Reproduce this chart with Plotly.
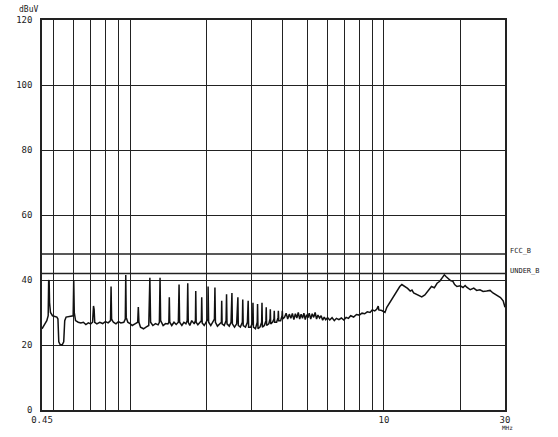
import math
import plotly.graph_objects as go

# ---- data ----
freq_mhz = [
    0.450, 0.455, 0.462, 0.470, 0.476, 0.478, 0.480, 0.482, 0.486, 0.495, 0.505, 0.515,
    0.520, 0.524, 0.530, 0.540, 0.548, 0.553, 0.560, 0.575, 0.590, 0.597, 0.600, 0.603,
    0.610, 0.625, 0.640, 0.655, 0.670, 0.685, 0.700, 0.712, 0.718, 0.722, 0.726, 0.740,
    0.760, 0.780, 0.800, 0.820, 0.838, 0.842, 0.846, 0.860, 0.880, 0.900, 0.920, 0.945,
    0.958, 0.962, 0.966, 0.980, 1.000, 1.020, 1.050, 1.072, 1.078, 1.084, 1.100, 1.130,
    1.160, 1.185, 1.197, 1.205, 1.230, 1.260, 1.290, 1.305, 1.313, 1.320, 1.350, 1.380,
    1.410, 1.422, 1.428, 1.434, 1.460, 1.490, 1.520, 1.550, 1.560, 1.568, 1.600, 1.630,
    1.660, 1.680, 1.688, 1.696, 1.720, 1.750, 1.790, 1.810, 1.815, 1.822, 1.850, 1.890,
    1.910, 1.916, 1.924, 1.960, 2.000, 2.025, 2.030, 2.040, 2.080, 2.120, 2.150, 2.160,
    2.170, 2.210, 2.260, 2.290, 2.297, 2.305, 2.350, 2.390, 2.400, 2.410, 2.460, 2.500,
    2.520, 2.530, 2.580, 2.630, 2.660, 2.670, 2.720, 2.770, 2.780, 2.792, 2.850, 2.900,
    2.920, 2.932, 2.990, 3.040, 3.050, 3.062, 3.120, 3.170, 3.180, 3.192, 3.250, 3.300,
    3.310, 3.322, 3.380, 3.430, 3.440, 3.452, 3.520, 3.560, 3.570, 3.582, 3.640, 3.690,
    3.700, 3.712, 3.780, 3.830, 3.840, 3.852, 3.920, 3.970, 3.980, 3.995,
    4.06, 4.12, 4.18, 4.24, 4.30, 4.36, 4.42, 4.48, 4.54, 4.60, 4.66, 4.72, 4.78, 4.84,
    4.90, 4.96, 5.02, 5.08, 5.15, 5.22, 5.29, 5.36, 5.43, 5.50, 5.58, 5.66, 5.74, 5.82,
    5.90, 6.00, 6.12, 6.25, 6.38, 6.50, 6.65, 6.80, 6.95, 7.10, 7.25, 7.40, 7.60, 7.80,
    8.00, 8.20, 8.40, 8.60, 8.82, 9.00, 9.20, 9.37, 9.50, 9.55, 9.81, 10.00, 10.10, 10.27,
    10.50, 10.87, 11.10, 11.30, 11.55, 11.77, 12.10, 12.40, 12.70, 12.90, 13.10, 13.50,
    13.80, 14.10, 14.50, 14.80, 15.00, 15.40, 15.80, 16.20, 16.60, 16.90, 17.30, 17.60,
    17.90, 18.30, 18.70, 19.00, 19.40, 20.00, 20.50, 20.90, 21.20, 21.60, 21.90, 22.60,
    23.20, 23.90, 24.60, 25.40, 26.20, 26.90, 27.50, 28.20, 28.80, 29.50, 30.00,
]
level_dbuv = [
    25.0, 25.5, 26.5, 27.5, 29.0, 39.6, 40.0, 33.0, 30.0, 29.0, 28.8, 28.6,
    28.0, 21.0, 20.2, 20.0, 21.0, 27.5, 28.6, 28.8, 28.8, 29.0, 40.0, 30.0,
    27.5, 27.0, 26.8, 27.0, 26.3, 26.8, 26.5, 27.0, 32.0, 31.0, 27.0, 26.5,
    27.0, 26.6, 27.2, 26.8, 27.5, 38.0, 28.0, 27.0, 26.5, 27.2, 26.8, 27.0,
    28.0, 41.5, 28.5, 27.0, 26.6, 26.0, 26.6, 27.0, 31.7, 27.0, 25.5, 25.0,
    25.6, 26.0, 40.7, 27.0, 26.0, 26.6, 26.2, 27.0, 40.7, 27.5, 26.0, 26.6,
    26.5, 27.0, 34.7, 27.0, 26.0, 27.0, 26.3, 27.0, 38.6, 27.0, 26.0, 27.0,
    26.5, 27.5, 39.0, 27.0, 26.0, 27.5, 26.5, 27.5, 36.6, 27.0, 26.2, 27.0,
    27.5, 34.7, 26.8, 26.0, 27.0, 28.0, 38.0, 27.0, 26.0, 27.0, 28.0, 37.7,
    27.0, 25.8, 26.5, 27.0, 33.6, 26.5, 26.0, 27.5, 35.6, 26.5, 25.8, 27.0,
    36.0, 26.5, 25.5, 26.5, 34.7, 26.0, 25.5, 27.0, 34.0, 26.0, 25.5, 27.0,
    33.6, 25.5, 25.5, 27.0, 33.0, 25.5, 25.0, 27.0, 32.6, 25.0, 25.5, 27.0,
    33.0, 25.5, 26.0, 27.5, 31.6, 26.0, 26.5, 28.0, 31.0, 26.5, 27.0, 28.0,
    30.5, 27.0, 27.0, 28.5, 30.5, 27.5, 27.5, 29.0, 30.5, 28.0,
    28.5, 29.8, 28.0, 29.5, 28.2, 29.7, 27.8, 29.6, 28.3, 30.0, 28.0, 29.5, 28.2, 29.8,
    27.8, 29.3, 28.4, 29.8, 28.0, 29.6, 28.5, 30.0, 28.0, 29.2, 28.3, 29.0, 27.6, 28.6,
    27.8, 28.4, 27.7, 28.4, 27.5, 28.2, 27.8, 28.3, 27.7, 28.5, 28.2, 29.0, 28.6, 29.4,
    29.2, 29.8, 29.6, 30.2, 30.0, 30.8, 30.5, 31.0, 32.0, 30.8, 30.6, 30.2, 30.0, 31.6,
    32.8, 35.0, 35.8, 37.0, 38.0, 38.6, 38.0, 37.4, 36.6, 36.9, 36.0, 35.6,
    35.2, 34.8, 35.4, 36.4, 37.0, 38.0, 37.6, 39.0, 39.6, 40.6, 41.6, 41.0,
    40.4, 39.8, 39.6, 38.6, 38.0, 38.2, 37.7, 38.3, 37.8, 37.2, 37.0, 37.5,
    36.8, 37.0, 36.5, 36.6, 36.8, 36.0, 35.6, 35.0, 34.6, 33.6, 31.6,
]

y_ticks = [0, 20, 40, 60, 80, 100, 120]
x_grid = [0.45, 0.5, 0.6, 0.7, 0.8, 0.9, 1, 2, 3, 4, 5, 6, 7, 8, 9, 10, 20, 30]
x_labels = ["0.45", "", "", "", "", "", "", "", "", "", "", "", "", "", "", "10", "", "30"]

limit_names = ["FCC_B", "UNDER_B"]
limit_levels = [48, 42]
limit_span = [0.45, 30]

ink = "#222222"
txt = "#222222"
fnt = "DejaVu Sans Mono"

fig = go.Figure()

for name, lvl in zip(limit_names, limit_levels):
    fig.add_trace(go.Scatter(
        x=limit_span, y=[lvl, lvl], mode="lines",
        line=dict(color=ink, width=1.3), hoverinfo="skip", showlegend=False))
    fig.add_annotation(
        x=1.006, xref="paper", y=lvl, yref="y", text=name, showarrow=False,
        xanchor="left", yanchor="middle", yshift=3,
        font=dict(family=fnt, size=7, color=txt))

fig.add_trace(go.Scatter(
    x=freq_mhz, y=level_dbuv, mode="lines",
    line=dict(color="#111111", width=1.5), showlegend=False))

fig.update_xaxes(
    type="log", range=[math.log10(0.45), math.log10(30)],
    tickmode="array", tickvals=x_grid, ticktext=x_labels,
    showgrid=True, gridcolor=ink, gridwidth=1.3,
    showline=True, linecolor=ink, linewidth=1.5, mirror=True,
    ticks="", zeroline=False, ticklabelstandoff=0,
    tickfont=dict(family=fnt, size=9, color=txt))
fig.update_yaxes(
    range=[0, 120], tickmode="array", tickvals=y_ticks,
    showgrid=True, gridcolor=ink, gridwidth=1.3,
    showline=True, linecolor=ink, linewidth=1.5, mirror=True,
    ticks="", zeroline=False, ticklabelstandoff=6,
    tickfont=dict(family=fnt, size=9, color=txt))

fig.add_annotation(x=-0.030, xref="paper", y=1.028, yref="paper", text="dBuV",
                   showarrow=False, xanchor="center", yanchor="middle",
                   font=dict(family=fnt, size=8, color=txt))
fig.add_annotation(x=1.006, xref="paper", y=-0.0455, yref="paper", text="MHz",
                   showarrow=False, xanchor="center", yanchor="middle",
                   font=dict(family=fnt, size=6, color=txt))

fig.update_layout(
    width=558, height=437,
    margin=dict(l=42, r=53, t=20, b=19),
    paper_bgcolor="white", plot_bgcolor="white",
    showlegend=False,
)

fig.write_html("out.html")
